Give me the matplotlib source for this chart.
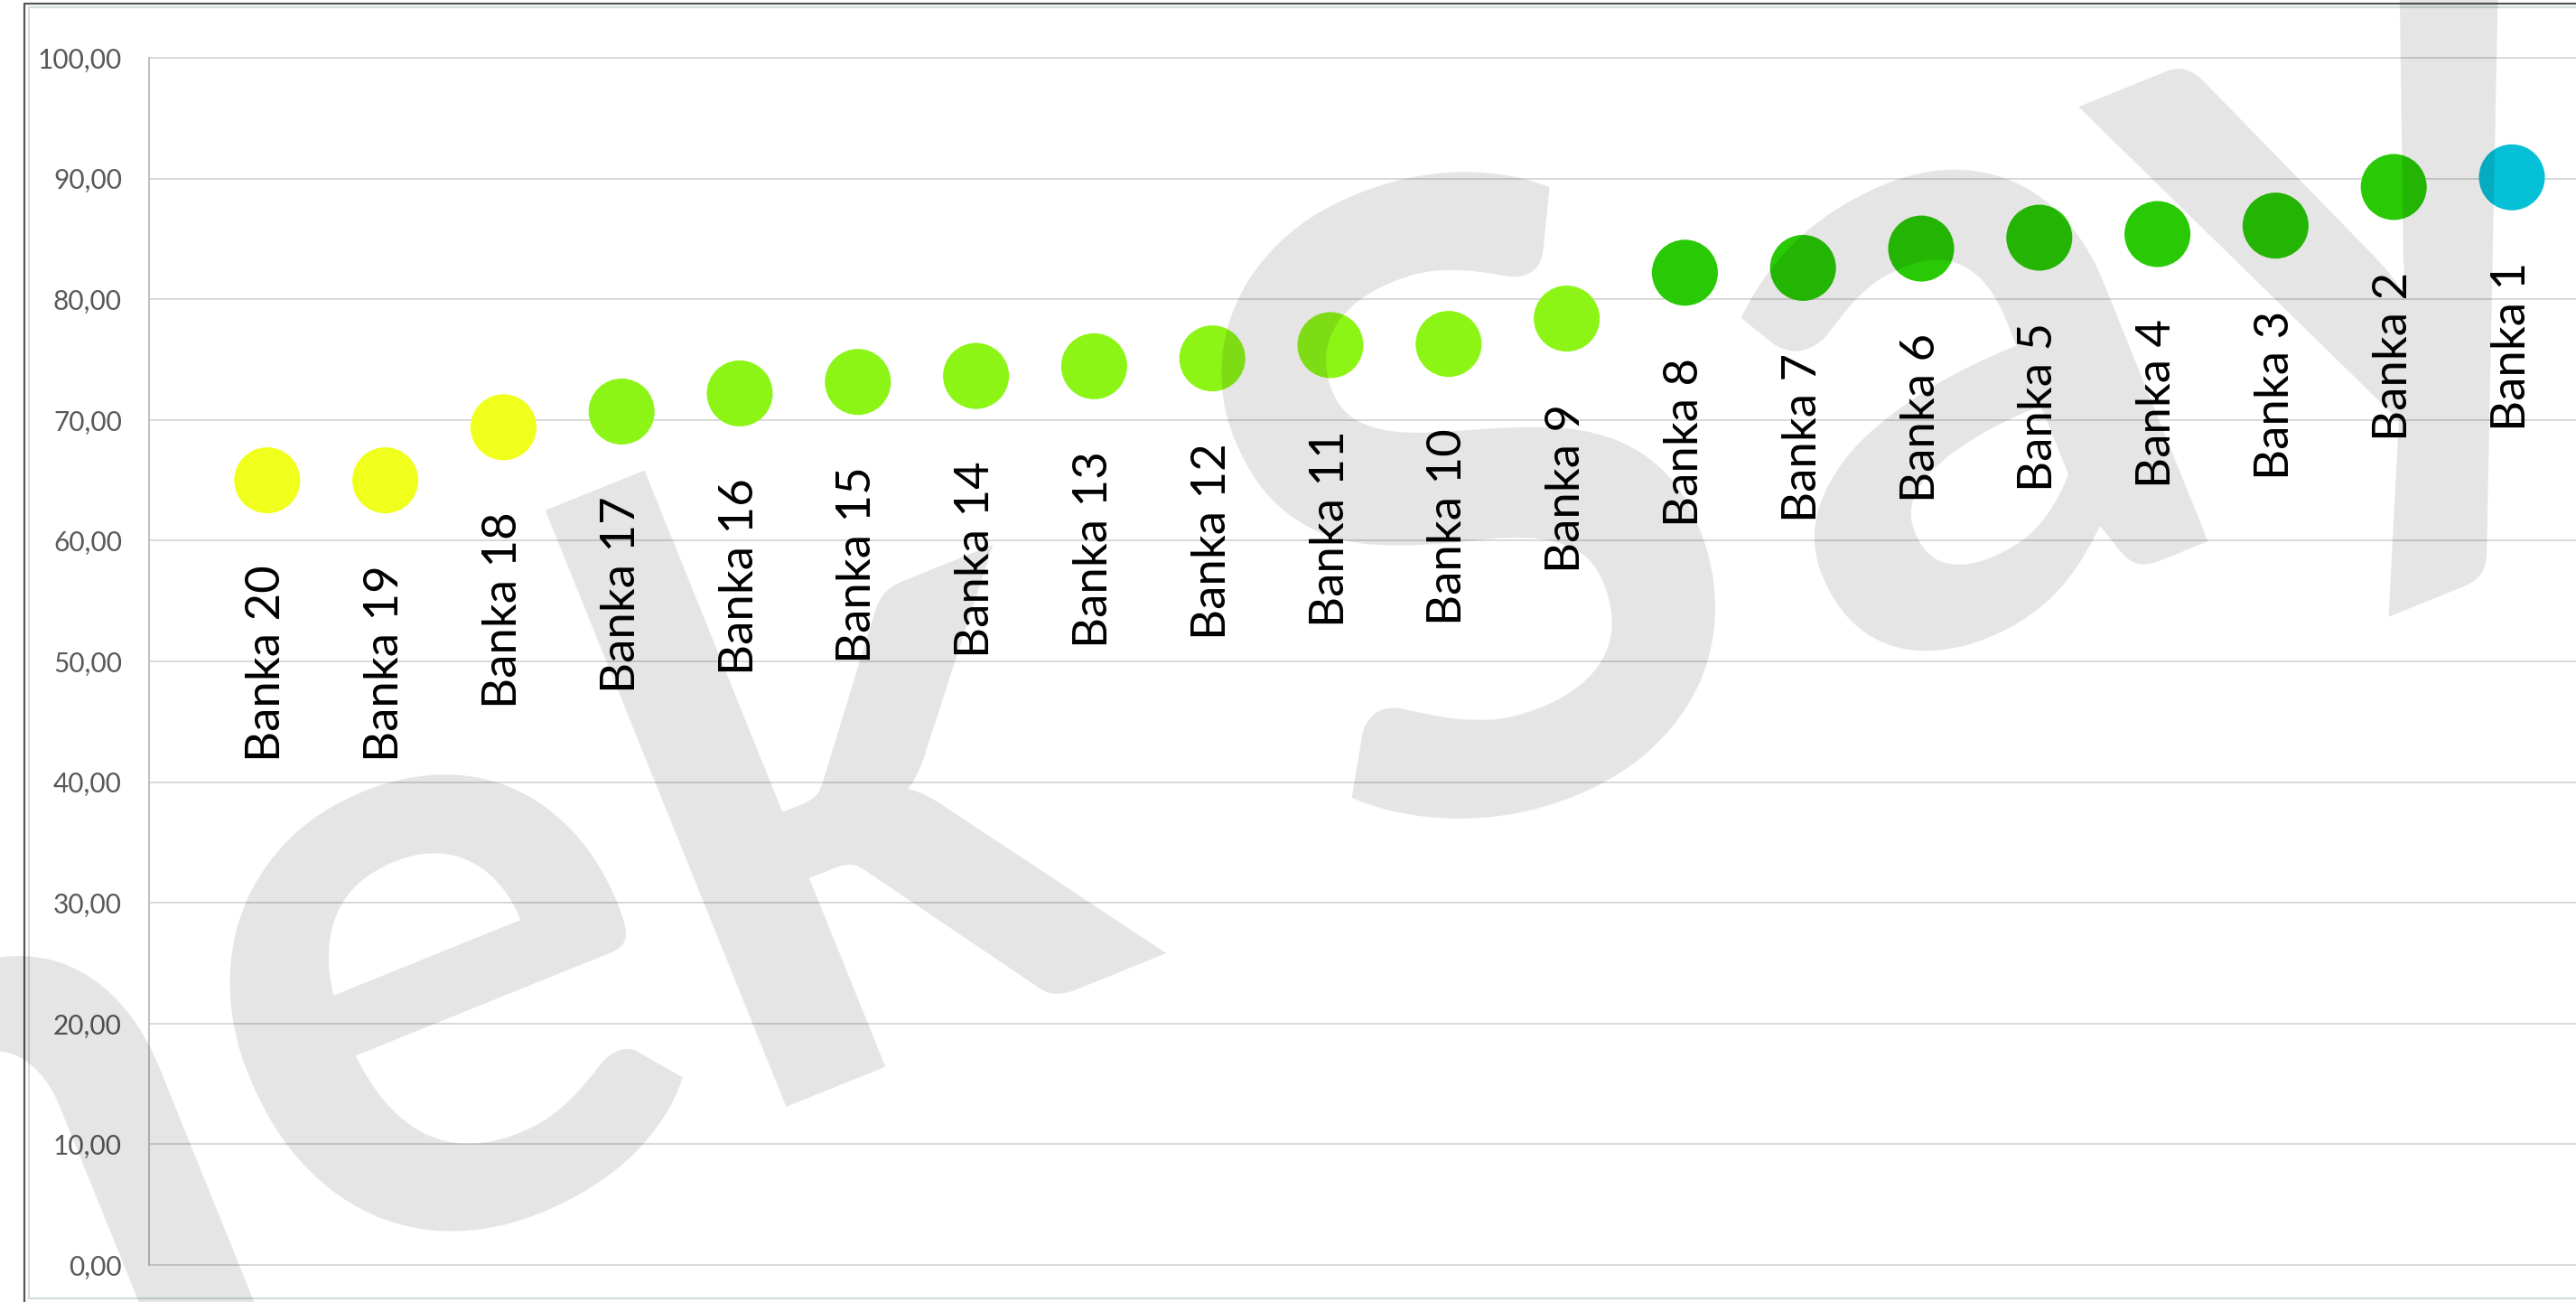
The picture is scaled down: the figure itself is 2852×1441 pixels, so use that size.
import math
import matplotlib
matplotlib.use('Agg')
import matplotlib.pyplot as plt
from matplotlib.lines import Line2D
from matplotlib.ticker import FuncFormatter
from matplotlib.textpath import TextPath
from matplotlib.font_manager import FontProperties

# data
banks = ['Banka 20', 'Banka 19', 'Banka 18', 'Banka 17', 'Banka 16', 'Banka 15',
         'Banka 14', 'Banka 13', 'Banka 12', 'Banka 11', 'Banka 10', 'Banka 9',
         'Banka 8', 'Banka 7', 'Banka 6', 'Banka 5', 'Banka 4', 'Banka 3',
         'Banka 2', 'Banka 1']
scores = [65.0, 65.0, 69.4, 70.7, 72.2, 73.15, 73.65, 74.45, 75.1, 76.2,
          76.3, 78.4, 82.2, 82.6, 84.2, 85.1, 85.4, 86.1, 89.3, 90.1]
yellow = '#F0FF1C'
lgreen = '#8CF516'
green = '#29CA05'
cyan = '#06C0D8'
colors = [yellow] * 3 + [lgreen] * 9 + [green] * 7 + [cyan]
yticks = list(range(0, 101, 10))

W, H = 2852, 1441
fig = plt.figure(figsize=(W / 100, H / 100), dpi=100)
ax = fig.add_axes([165 / W, 41 / H, (W - 165) / W, 1336 / H])

xs = list(range(1, len(banks) + 1))
ax.scatter(xs, scores, s=2766, c=colors, linewidths=0, zorder=3)
for xi, yi, name in zip(xs, scores, banks):
    ax.annotate(name, (xi, yi), xytext=(0, -67.7), textcoords='offset points',
                rotation=90, ha='center', va='top', fontsize=38, family='Lato',
                color='black')

ax.set_xlim(0, (W - 165) / 130.8)
ax.set_ylim(0, 100)
ax.set_xticks([])
ax.set_yticks(yticks)
ax.yaxis.set_major_formatter(FuncFormatter(lambda v, p: f'{v:.2f}'.replace('.', ',')))
ax.tick_params(axis='y', length=0, pad=21.6, labelsize=21.5, labelcolor='#595959')
for lab in ax.get_yticklabels():
    lab.set_family('Lato')
ax.grid(axis='y', color='#D9D9D9', lw=1.44, clip_on=False)
ax.set_axisbelow(True)
for s in ['top', 'right', 'bottom']:
    ax.spines[s].set_visible(False)
ax.spines['left'].set_color('#BFBFBF')
ax.spines['left'].set_linewidth(1.44)

# chart frame
def px(x, y):
    return x / W, 1 - y / H

fx, fy = zip(px(27, H), px(27, 4), px(W, 4))
fig.add_artist(Line2D(fx, fy, color='#555555', lw=1.6, transform=fig.transFigure))
fx, fy = zip(px(32, 1437), px(32, 8), px(W, 8))
fig.add_artist(Line2D(fx, fy, color='#D3DDDD', lw=1.6, transform=fig.transFigure))
fx, fy = zip(px(32, 1437), px(W, 1437))
fig.add_artist(Line2D(fx, fy, color='#D3DDDD', lw=1.6, transform=fig.transFigure))

# watermark "Örnek Sayfa", rotated, pieces placed along one baseline
ang = 22
fsize = 690
ox, oy = 342, 1439
ux, uy = math.cos(math.radians(ang)), -math.sin(math.radians(ang))
fp = FontProperties(family='Lato', weight='bold')
em = fsize * 100 / 72
wm = dict(rotation=ang, rotation_mode='anchor', va='baseline', fontsize=fsize,
          fontweight='bold', family='Lato', color='black', alpha=0.105, zorder=10)

def at(u):
    return px(ox + ux * u, oy + uy * u)

fig.text(*at(0), 'Örn', ha='right', **wm)
fig.text(*at(0), 'ek S', ha='left', **wm)
ext_a = TextPath((0, 0), 'a', size=em, prop=fp).get_extents()
fig.text(*at(2266 - ext_a.x1), 'a', ha='left', **wm)
ext_y = TextPath((0, 0), 'yfa', size=em, prop=fp).get_extents()
fig.text(*at(2311 - ext_y.x0), 'yfa', ha='left', **wm)

fig.savefig('out.png', dpi=100)
